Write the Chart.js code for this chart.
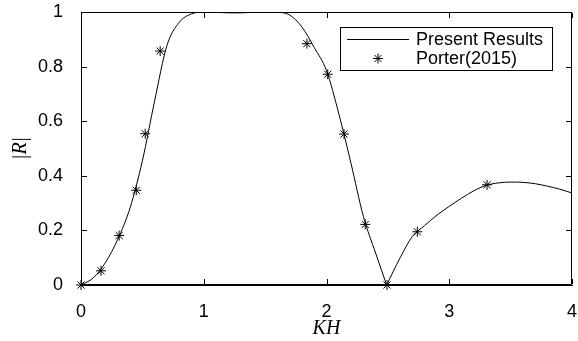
<!DOCTYPE html>
<html lang="en">
<head>
  <meta charset="UTF-8">
  <title>|R| vs KH</title>
  <script src="https://cdn.jsdelivr.net/npm/chart.js"></script>
  <style>
    html, body {
      margin: 0;
      padding: 0;
      background: #fff;
    }

    canvas {
      display: block;
    }
  </style>
</head>
<body>
  <canvas id="resultChart" width="578" height="341"></canvas>

  <script>
// present results
const curveKH = [0, 0.1, 0.2, 0.3, 0.4, 0.5, 0.6, 0.7, 0.8, 0.9, 1.0,
  1.1, 1.2, 1.3, 1.4, 1.5, 1.6, 1.7, 1.8, 1.9, 2.0,
  2.1, 2.2, 2.3, 2.4, 2.49,
  2.6, 2.7, 2.8, 2.9, 3.0, 3.1, 3.2, 3.3, 3.4, 3.5, 3.6, 3.7, 3.8, 3.9, 4.0];
const curveR = [0, 0.026, 0.083, 0.168, 0.283, 0.455, 0.675, 0.877, 0.962, 0.993, 1.0,
  0.999, 0.997, 0.997, 0.999, 1.0, 0.999, 0.989, 0.945, 0.87, 0.785,
  0.628, 0.445, 0.252, 0.117, 0,
  0.10, 0.178, 0.218, 0.256, 0.288, 0.318, 0.345, 0.365, 0.374, 0.377, 0.376, 0.371, 0.362, 0.351, 0.337];

// Porter (2015)
const porterKH = [0, 0.163, 0.311, 0.45, 0.523, 0.645, 1.84, 2.01, 2.143, 2.316, 2.493, 2.74, 3.308];
const porterR = [0, 0.052, 0.181, 0.347, 0.554, 0.857, 0.884, 0.772, 0.553, 0.222, 0, 0.195, 0.367];

const xTicks = [0, 1, 2, 3, 4];
const yTicks = [0, 0.2, 0.4, 0.6, 0.8, 1];
const legendLabels = ["Present Results", "Porter(2015)"];

// split curve at the cusp so it stays sharp
const cusp = curveR.indexOf(0, 1);
const curveA = curveKH.slice(0, cusp + 1).map((x, i) => ({ x, y: curveR[i] }));
const curveB = curveKH.slice(cusp).map((x, i) => ({ x, y: curveR[cusp + i] }));
const porter = porterKH.map((x, i) => ({ x, y: porterR[i] }));

const tickFont = { family: "'Liberation Sans', Arial, Helvetica, sans-serif", size: 18 };
const titleFont = { family: "'Liberation Serif', 'Times New Roman', serif", size: 20, style: "italic" };

// no extra padding for overhanging tick labels
const noPad = s => { s.paddingLeft = 0; s.paddingRight = 0; s.paddingTop = 0; s.paddingBottom = 0; };

// box frame, inward ticks and the boxed legend
const framePlugin = {
  id: "frame",
  afterDraw(chart) {
    const c = chart.ctx;
    const xs = chart.scales.x, ys = chart.scales.y;
    const L = Math.round(xs.getPixelForValue(0));
    const R = Math.round(xs.getPixelForValue(4)) - 1;
    const T = Math.round(ys.getPixelForValue(1));
    const B = Math.round(ys.getPixelForValue(0)) - 1;
    c.save();
    c.fillStyle = "#000";
    // frame, 1px lines as thin rectangles
    c.fillRect(L, T, R - L + 1, 1);
    c.fillRect(L, B, R - L + 1, 1);
    c.fillRect(L, T, 1, B - T + 1);
    c.fillRect(R, T, 1, B - T + 1);
    xTicks.forEach(v => {
      const px = Math.round(xs.getPixelForValue(v));
      c.fillRect(px, B - 5, 1, 5);
      c.fillRect(px, T + 1, 1, 5);
    });
    yTicks.forEach(v => {
      const py = Math.round(ys.getPixelForValue(v));
      c.fillRect(L + 1, py, 5, 1);
      c.fillRect(R - 5, py, 5, 1);
    });

    // legend
    c.fillStyle = "#fff";
    c.fillRect(340, 27, 212, 43);
    c.strokeStyle = "#000";
    c.lineWidth = 1;
    c.strokeRect(340.5, 27.5, 212, 43);
    c.beginPath();
    c.moveTo(347, 39.5); c.lineTo(409, 39.5);
    c.stroke();
    Chart.helpers.drawPoint(c, { pointStyle: "star", radius: 5, borderWidth: 1 }, 378, 58.5);
    c.fillStyle = "#000";
    c.font = "18px 'Liberation Sans', Arial, Helvetica, sans-serif";
    c.textBaseline = "middle";
    c.fillText(legendLabels[0], 416, 40);
    c.fillText(legendLabels[1], 416, 59);
    c.restore();
  }
};

const ctx = document.getElementById("resultChart").getContext("2d");
new Chart(ctx, {
  type: "scatter",
  data: {
    datasets: [
      {
        label: legendLabels[1],
        data: porter,
        showLine: false,
        pointStyle: "star",
        pointRadius: 5,
        pointBorderWidth: 1,
        borderColor: "#000",
        backgroundColor: "#000",
        clip: false,
        order: 0
      },
      {
        label: legendLabels[0],
        data: curveA,
        showLine: true,
        pointRadius: 0,
        borderColor: "#000",
        borderWidth: 1,
        cubicInterpolationMode: "monotone",
        order: 1
      },
      {
        label: legendLabels[0],
        data: curveB,
        showLine: true,
        pointRadius: 0,
        borderColor: "#000",
        borderWidth: 1,
        cubicInterpolationMode: "monotone",
        order: 1
      }
    ]
  },
  options: {
    responsive: false,
    animation: false,
    layout: { padding: { top: 12, right: 4, left: 0, bottom: 0 } },
    plugins: {
      legend: { display: false },
      tooltip: { enabled: false }
    },
    scales: {
      x: {
        type: "linear",
        min: 0,
        max: 4,
        grid: { display: false },
        border: { display: true, color: "#000", width: 1 },
        afterBuildTicks: s => { s.ticks = xTicks.map(v => ({ value: v })); },
        afterFit: s => { s.height = 56; noPad(s); },
        ticks: { color: "#000", font: tickFont, padding: 8, maxRotation: 0, autoSkip: false, callback: v => String(v) },
        title: { display: true, text: "KH", color: "#000", font: titleFont, padding: { top: 0, bottom: 0 } }
      },
      y: {
        min: 0,
        max: 1,
        grid: { display: false },
        border: { display: true, color: "#000", width: 1 },
        afterBuildTicks: s => { s.ticks = yTicks.map(v => ({ value: v })); },
        afterFit: s => { s.width = 81; noPad(s); },
        ticks: { color: "#000", font: tickFont, padding: 10, autoSkip: false, callback: v => String(v) },
        title: { display: true, text: "|R|", color: "#000", font: titleFont, padding: { top: 9, bottom: 0 } }
      }
    }
  },
  plugins: [framePlugin]
});
  </script>
</body>
</html>
